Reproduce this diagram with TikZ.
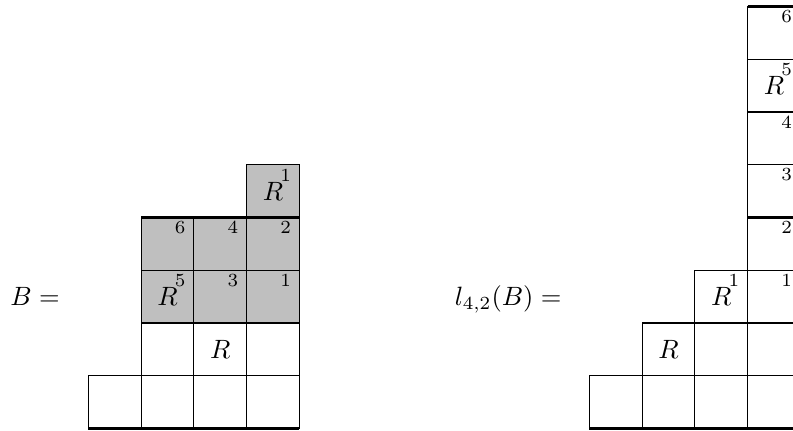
\documentclass[tikz,border=0pt]{standalone}
\begin{document}
\begin{tikzpicture}[x=0.7cm,y=0.7cm,
  cellline/.style={line width=0.4pt},
  thickline/.style={line width=0.9pt},
  shadecell/.style={cellline,fill=lightgray},
  num/.style={font=\scriptsize, inner sep=0pt},
  bigR/.style={inner sep=0pt}]
\path[use as bounding box, clip] (-1.674,-0.044) rectangle (13.36,8.127);

% ---------- left board ----------
\foreach \x/\y in {0/0,1/0,2/0,3/0,1/1,2/1,3/1}
  \draw[cellline] (\x,\y) rectangle ++(1,1);
\foreach \x/\y in {1/2,2/2,3/2,1/3,2/3,3/3,3/4}
  \draw[shadecell] (\x,\y) rectangle ++(1,1);
\draw[thickline] (0,0) -- (4,0);
\draw[thickline] (1,2) -- (4,2);
\draw[thickline] (1,4) -- (4,4);

\node[bigR] (lRa) at (2.5,1.5) {$R$};
\node[bigR] (lRb) at (1.5,2.5) {$R$};
\node[num] (ln5) at (1.74,2.81) {5};
\node[num] (ln3) at (2.74,2.81) {3};
\node[num] (ln1) at (3.74,2.81) {1};
\node[num] (ln6) at (1.74,3.81) {6};
\node[num] (ln4) at (2.74,3.81) {4};
\node[num] (ln2) at (3.74,3.81) {2};
\node[bigR] (lRc) at (3.5,4.5) {$R$};
\node[num] (ln1b) at (3.74,4.81) {1};

\node[anchor=base] (eqB) at (-1.01,2.33) {$B =$};

% ---------- right board ----------
\foreach \x/\y in {9.5/0,10.5/0,11.5/0,12.5/0,10.5/1,11.5/1,12.5/1,11.5/2,12.5/2,
                   12.5/3,12.5/4,12.5/5,12.5/6,12.5/7}
  \draw[cellline] (\x,\y) rectangle ++(1,1);
\draw[thickline] (9.5,0) -- (13.5,0);
\draw[thickline] (10.5,2) -- (13.5,2);
\draw[thickline] (12.5,4) -- (13.5,4);
\draw[thickline] (12.5,6) -- (13.5,6);
\draw[thickline] (12.5,8) -- (13.5,8);

\node[bigR] (rRa) at (11,1.5) {$R$};
\node[bigR] (rRb) at (12,2.5) {$R$};
\node[num] (rn1a) at (12.24,2.81) {1};
\node[num] (rn1) at (13.24,2.81) {1};
\node[num] (rn2) at (13.24,3.81) {2};
\node[num] (rn3) at (13.24,4.81) {3};
\node[num] (rn4) at (13.24,5.81) {4};
\node[bigR] (rRc) at (13,6.5) {$R$};
\node[num] (rn5) at (13.24,6.81) {5};
\node[num] (rn6) at (13.24,7.81) {6};

\node[anchor=base] (eqL) at (7.96,2.33) {$l_{4,2}(B) =$};
\end{tikzpicture}
\end{document}
